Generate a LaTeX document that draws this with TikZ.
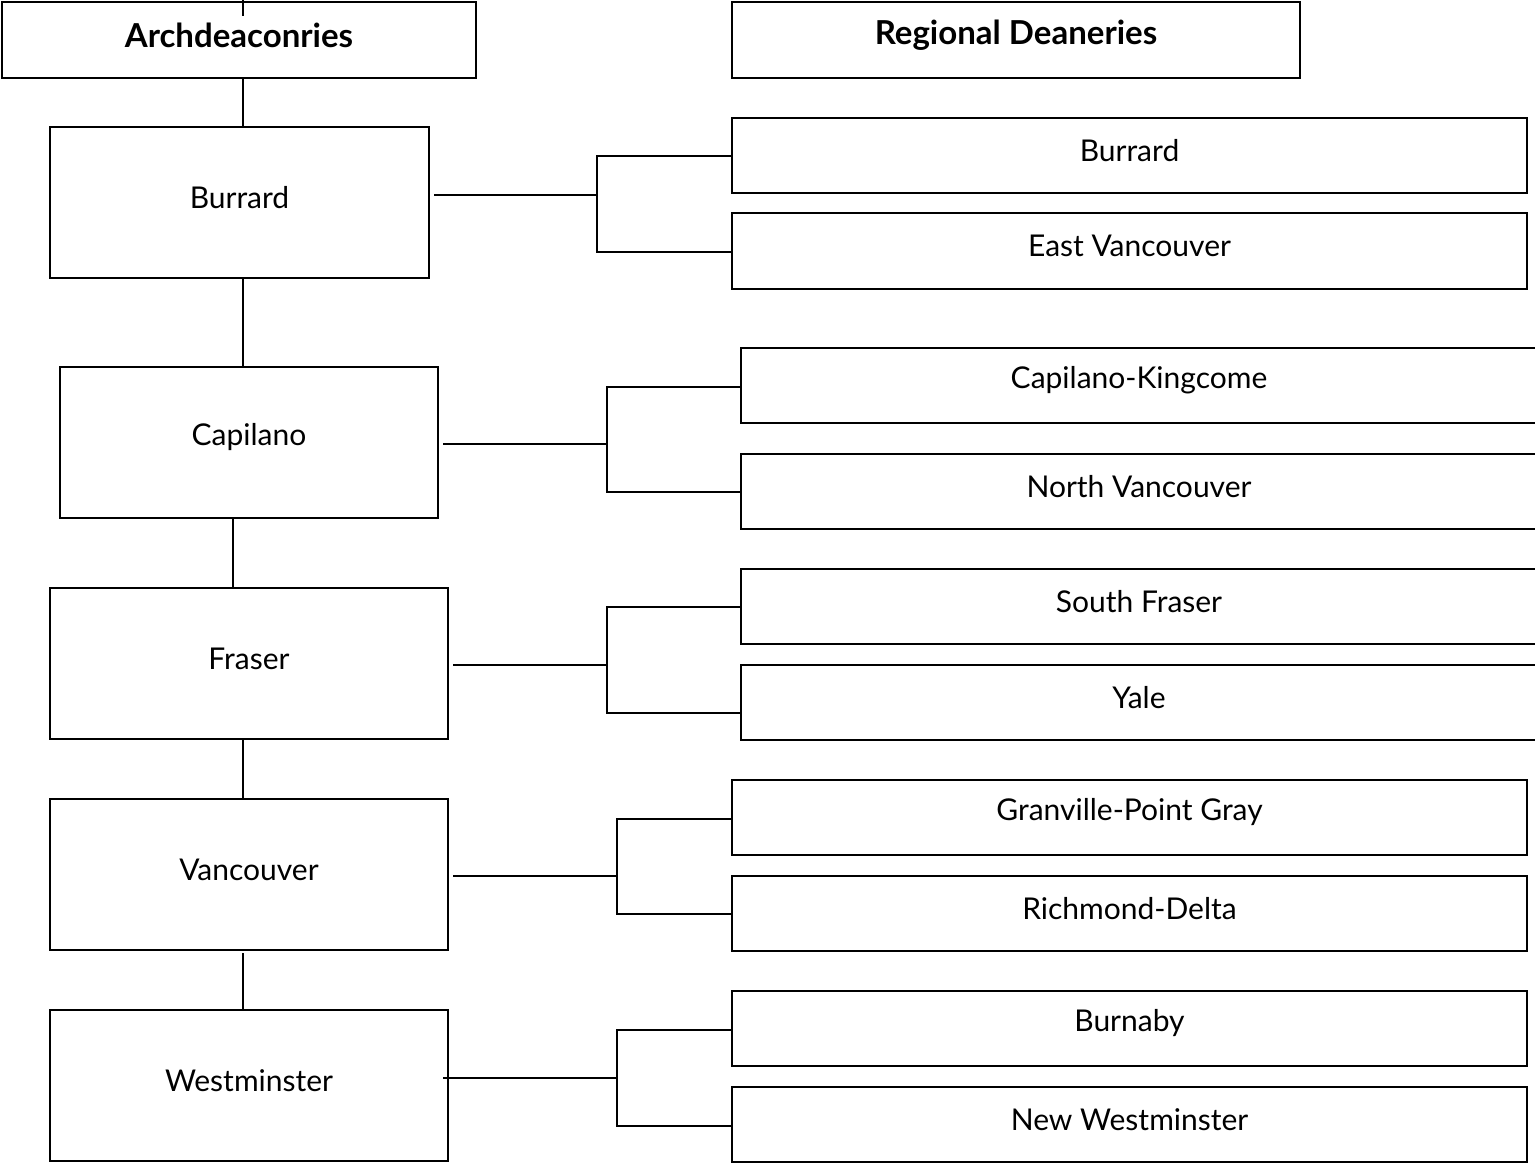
\documentclass[tikz,border=0pt]{standalone}
\usepackage{fontspec}
\setmainfont{Lato}
\newcommand\mybox[6]{\node[box, minimum width={(#4-#2)*0.5pt}, minimum height={(#5-#3)*0.5pt}, label={[boxtext]center:#6}] (#1) at (#2,#3) {};}
\begin{document}
\begin{tikzpicture}[x=0.5pt,y=-0.5pt,
  box/.style={draw, line width=1pt, inner sep=0pt, outer sep=0pt, anchor=north west},
  boxtext/.style={inner sep=0pt, yshift=2.5pt, font=\fontsize{15}{18}\selectfont},
  conn/.style={line width=1pt}]
\useasboundingbox (0,0) rectangle (1535,1163);
% headers
\mybox{arch}{2}{2}{476}{78}{\fontsize{16.5}{19}\selectfont\bfseries Archdeaconries}
\mybox{reg}{732}{2}{1300}{78}{\fontsize{16.5}{19}\selectfont\bfseries Regional Deaneries}
% archdeaconries
\mybox{aBur}{50}{127}{429}{278}{Burrard}
\mybox{aCap}{60}{367}{438}{518}{Capilano}
\mybox{aFra}{50}{588}{448}{739}{Fraser}
\mybox{aVan}{50}{799}{448}{950}{Vancouver}
\mybox{aWes}{50}{1010}{448}{1161}{Westminster}
% deaneries
\mybox{dBur}{732}{118}{1527}{193}{Burrard}
\mybox{dEV}{732}{213}{1527}{289}{East Vancouver}
\mybox{dCK}{741}{348}{1537}{423}{Capilano-Kingcome}
\mybox{dNV}{741}{454}{1537}{529}{North Vancouver}
\mybox{dSF}{741}{569}{1537}{644}{South Fraser}
\mybox{dYa}{741}{665}{1537}{740}{Yale}
\mybox{dGP}{732}{780}{1527}{855}{Granville-Point Gray}
\mybox{dRD}{732}{876}{1527}{951}{Richmond-Delta}
\mybox{dBy}{732}{991}{1527}{1066}{Burnaby}
\mybox{dNW}{732}{1087}{1527}{1162}{New Westminster}
% vertical chain
\coordinate (top) at (243,0);
\draw[conn] (top) -- (243,16);
\draw[conn] (arch.south -| 243,0) -- (aBur.north -| 243,0);
\draw[conn] (aBur.south -| 243,0) -- (aCap.north -| 243,0);
\draw[conn] (aCap.south -| 233,0) -- (aFra.north -| 233,0);
\draw[conn] (aFra.south -| 243,0) -- (aVan.north -| 243,0);
\draw[conn] (243,953) -- (aWes.north -| 243,0);
% branches
\draw[conn] (434,195) -- (597,195);
\draw[conn] (dBur.west |- 0,156) -| (597,252) -- (dEV.west |- 0,252);
\draw[conn] (443,444) -- (607,444);
\draw[conn] (dCK.west |- 0,387) -| (607,492) -- (dNV.west |- 0,492);
\draw[conn] (453,665) -- (607,665);
\draw[conn] (dSF.west |- 0,607) -| (607,713) -- (dYa.west |- 0,713);
\draw[conn] (453,876) -- (617,876);
\draw[conn] (dGP.west |- 0,819) -| (617,914) -- (dRD.west |- 0,914);
\draw[conn] (443,1078) -- (617,1078);
\draw[conn] (dBy.west |- 0,1030) -| (617,1126) -- (dNW.west |- 0,1126);
\end{tikzpicture}
\end{document}
